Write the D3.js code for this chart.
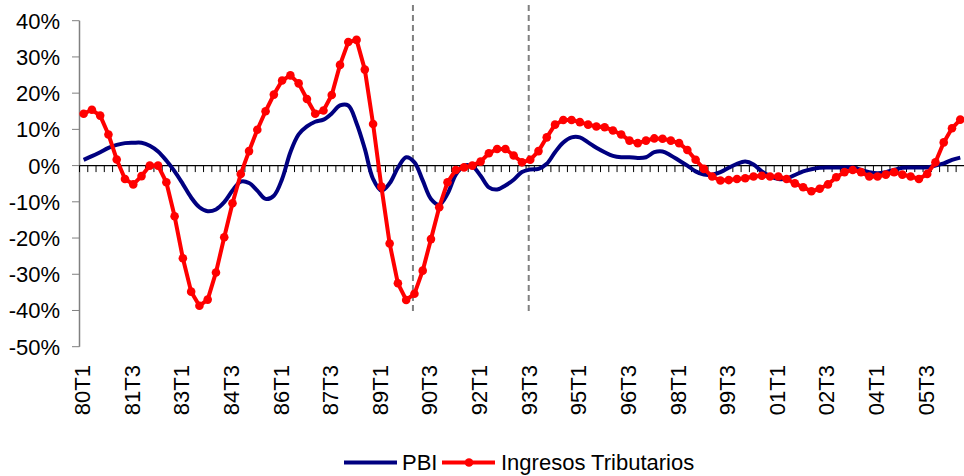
<!DOCTYPE html>
<html>
<head>
<meta charset="utf-8">
<script src="https://cdn.jsdelivr.net/npm/d3@7"></script>
<style>
  body { margin: 0; background: #fff; }
  svg text { font-family: "Liberation Sans", Arial, sans-serif; fill: #000; }
</style>
</head>
<body>
<script>
// trimestres 80T1 .. 06T3
var years = ["80","81","82","83","84","85","86","87","88","89","90","91","92","93",
             "94","95","96","97","98","99","00","01","02","03","04","05","06"];
var quarters = [];
years.forEach(function(y) { for (var q = 1; q <= 4; q++) quarters.push(y + "T" + q); });
quarters = quarters.slice(0, 107);

// etiquetas del eje x (cada 6 trimestres)
var xLabels = ["80T1","81T3","83T1","84T3","86T1","87T3","89T1","90T3","92T1","93T3",
               "95T1","96T3","98T1","99T3","01T1","02T3","04T1","05T3"];
var yTicks = [40, 30, 20, 10, 0, -10, -20, -30, -40, -50];
var dashedAt = ["90T1", "93T3"];

// PBI, variacion % anual
var pbi = [1.6,2.6,3.7,4.9,5.7,6.2,6.3,6.3,5.5,3.9,1.4,-1.6,-5.1,-8.8,-11.5,-12.6,-12.1,-10.1,-6.9,-4.4,
           -4.8,-6.9,-9.2,-8.3,-3.7,3.7,8.6,10.8,12.1,12.7,14.4,16.6,16.6,11.7,4.6,-3.7,-6.9,-4.9,-0.6,2.3,
           0.9,-4.1,-9.2,-10.8,-7.8,-2.5,0,-0.2,-2.8,-6.0,-6.6,-5.5,-3.9,-1.8,-1.1,-0.9,0.5,3.7,6.4,7.8,
           7.8,6.4,4.9,3.7,2.7,2.3,2.3,2.1,2.3,3.7,3.9,2.8,1.4,0,-1.6,-2.5,-2.5,-1.8,-0.6,0.5,
           1.1,0.3,-1.6,-2.9,-3.7,-3.6,-2.6,-1.6,-1.0,-0.6,-0.5,-0.5,-0.5,-0.5,-1.2,-1.8,-2.1,-1.8,-1.2,-0.6,
           -0.5,-0.5,-0.5,0,0.6,1.6,2.2];

// Ingresos Tributarios, variacion % anual
var ingresos = [14.3,15.4,13.8,8.6,1.7,-3.7,-5.2,-2.9,0,0,-4.6,-14.0,-25.6,-34.8,-38.7,-37.0,-29.5,-19.8,-10.4,-2.3,
                4.0,9.9,15.0,19.6,23.5,24.9,22.7,18.4,14.3,15.2,19.5,27.8,34.1,34.7,26.5,11.5,-5.8,-21.5,-32.5,-37.1,
                -35.4,-29.0,-20.3,-11.5,-4.6,-1.2,-0.5,0,1.1,3.4,4.6,4.6,2.8,0.9,1.6,4.0,7.8,11.3,12.6,12.6,
                12.0,11.3,10.8,10.6,9.7,8.6,6.9,6.2,6.9,7.5,7.4,6.9,6.2,4.3,1.6,-0.9,-3.0,-4.1,-4.0,-3.7,
                -3.5,-3.0,-2.8,-3.0,-3.0,-3.7,-4.9,-6.0,-7.1,-6.4,-5.2,-3.2,-1.8,-1.2,-1.8,-3.0,-3.0,-2.5,-1.8,-2.5,
                -3.0,-3.7,-2.3,0.9,6.4,10.3,12.7];

var width = 964, height = 476;

var svg = d3.select("body").append("svg")
    .attr("width", width)
    .attr("height", height);

var x = d3.scaleBand().domain(quarters).range([79.5, 964.4]).padding(0);
var y = d3.scaleLinear().domain([-50, 40]).range([346.7, 20.7]);
function cx(d) { return x(d) + x.bandwidth() / 2; }

// lineas verticales punteadas
svg.append("g").selectAll("line")
    .data(dashedAt)
    .enter().append("line")
    .attr("x1", function(d) { return cx(d) - 1.5; })
    .attr("x2", function(d) { return cx(d) - 1.5; })
    .attr("y1", 5)
    .attr("y2", 312)
    .style("stroke", "#808080")
    .style("stroke-width", 2)
    .style("stroke-dasharray", "6,4");

// eje y
var yAxis = svg.append("g");
yAxis.append("line")
    .attr("x1", 79.5).attr("x2", 79.5)
    .attr("y1", y(40)).attr("y2", y(-50))
    .style("stroke", "#808080").style("stroke-width", 1.5);
yAxis.selectAll("line.tk")
    .data(yTicks)
    .enter().append("line")
    .attr("class", "tk")
    .attr("x1", 72).attr("x2", 79.5)
    .attr("y1", function(d) { return y(d); })
    .attr("y2", function(d) { return y(d); })
    .style("stroke", "#808080").style("stroke-width", 1);
yAxis.selectAll("text")
    .data(yTicks)
    .enter().append("text")
    .attr("x", 60)
    .attr("y", function(d) { return y(d); })
    .attr("dy", "0.36em")
    .attr("text-anchor", "end")
    .style("font-size", "22px")
    .text(function(d) { return d + "%"; });

// eje x en 0%
var xAxis = svg.append("g");
xAxis.append("line")
    .attr("x1", 79.5).attr("x2", 964.4)
    .attr("y1", y(0)).attr("y2", y(0))
    .style("stroke", "#000").style("stroke-width", 1.2);
xAxis.selectAll("line.tk")
    .data(quarters)
    .enter().append("line")
    .attr("class", "tk")
    .attr("x1", function(d) { return x(d); })
    .attr("x2", function(d) { return x(d); })
    .attr("y1", y(0)).attr("y2", y(0) + 6.5)
    .style("stroke", "#000").style("stroke-width", 1);
svg.append("g").selectAll("text")
    .data(xLabels)
    .enter().append("text")
    .attr("transform", function(d) { return "translate(" + (cx(d) - 1.5) + ",365) rotate(-90)"; })
    .attr("dy", "0.36em")
    .attr("text-anchor", "end")
    .style("font-size", "22px")
    .text(function(d) { return d; });

// series
var line = d3.line()
    .x(function(d, i) { return cx(quarters[i]); })
    .y(function(d) { return y(d); });

svg.append("path")
    .datum(pbi)
    .attr("d", line.curve(d3.curveCatmullRom.alpha(0.5)))
    .style("fill", "none")
    .style("stroke", "#000080")
    .style("stroke-width", 4)
    .style("stroke-linejoin", "round");

svg.append("path")
    .datum(ingresos)
    .attr("d", line.curve(d3.curveLinear))
    .style("fill", "none")
    .style("stroke", "#ff0000")
    .style("stroke-width", 4)
    .style("stroke-linejoin", "round");

svg.append("g").selectAll("circle")
    .data(ingresos)
    .enter().append("circle")
    .attr("cx", function(d, i) { return cx(quarters[i]); })
    .attr("cy", function(d) { return y(d); })
    .attr("r", 4.3)
    .style("fill", "#ff0000");

// leyenda
var legend = svg.append("g");
legend.append("line")
    .attr("x1", 344).attr("x2", 397).attr("y1", 462.5).attr("y2", 462.5)
    .style("stroke", "#000080").style("stroke-width", 4);
legend.append("text")
    .attr("x", 402).attr("y", 470)
    .style("font-size", "22px")
    .text("PBI");
legend.append("line")
    .attr("x1", 442).attr("x2", 495).attr("y1", 462.5).attr("y2", 462.5)
    .style("stroke", "#ff0000").style("stroke-width", 4);
legend.append("circle")
    .attr("cx", 469).attr("cy", 462.5).attr("r", 4.3)
    .style("fill", "#ff0000");
legend.append("text")
    .attr("x", 501).attr("y", 470)
    .style("font-size", "22px")
    .text("Ingresos Tributarios");
</script>
</body>
</html>
